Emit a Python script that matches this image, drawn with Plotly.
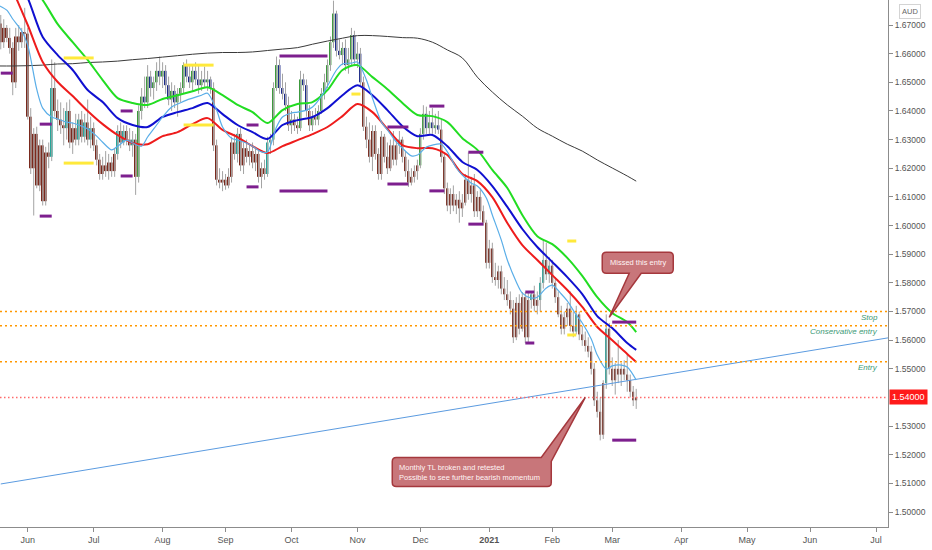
import numpy as np
import pandas as pd
import plotly.graph_objects as go

# EUR/AUD daily candles, 19 May 2020 .. 11 Mar 2021
open_ = [
    1.6705, 1.6640, 1.6690, 1.6655, 1.6620, 1.6500, 1.6660, 1.6640, 1.6675, 1.6670,
    1.6380, 1.6200, 1.6320, 1.6140, 1.6280, 1.6085, 1.6255, 1.6240, 1.6480, 1.6400,
    1.6370, 1.6350, 1.6340, 1.6400, 1.6290, 1.6340, 1.6300, 1.6370, 1.6310, 1.6360,
    1.6300, 1.6340, 1.6280, 1.6230, 1.6180, 1.6210, 1.6190, 1.6220, 1.6190, 1.6250,
    1.6330, 1.6290, 1.6330, 1.6300, 1.6280, 1.6300, 1.6170, 1.6400, 1.6450, 1.6430,
    1.6520, 1.6480, 1.6500, 1.6540, 1.6520, 1.6540, 1.6490, 1.6440, 1.6470, 1.6430,
    1.6460, 1.6480, 1.6560, 1.6520, 1.6500, 1.6540, 1.6510, 1.6490, 1.6510, 1.6500,
    1.6510, 1.6480, 1.6280, 1.6160, 1.6150, 1.6160, 1.6140, 1.6170, 1.6290, 1.6250,
    1.6320, 1.6210, 1.6270, 1.6240, 1.6260, 1.6220, 1.6250, 1.6170, 1.6200, 1.6180,
    1.6290, 1.6300, 1.6480, 1.6560, 1.6480, 1.6460, 1.6420, 1.6350, 1.6370, 1.6350,
    1.6340, 1.6510, 1.6490, 1.6400, 1.6350, 1.6380, 1.6370, 1.6400, 1.6460, 1.6500,
    1.6560, 1.6640, 1.6740, 1.6610, 1.6595, 1.6620, 1.6560, 1.6580, 1.6665, 1.6580,
    1.6600, 1.6500, 1.6345, 1.6300, 1.6240, 1.6330, 1.6250, 1.6180, 1.6310, 1.6240,
    1.6200, 1.6280, 1.6230, 1.6280, 1.6300, 1.6240, 1.6190, 1.6150, 1.6170, 1.6190,
    1.6210, 1.6320, 1.6390, 1.6340, 1.6360, 1.6340, 1.6350, 1.6335, 1.6240, 1.6130,
    1.6070, 1.6110, 1.6070, 1.6090, 1.6060, 1.6080, 1.6160, 1.6110, 1.6140, 1.6050,
    1.6100, 1.6050, 1.6010, 1.5870, 1.5920, 1.5820, 1.5810, 1.5840, 1.5780, 1.5760,
    1.5740, 1.5710, 1.5610, 1.5730, 1.5640, 1.5750, 1.5610, 1.5740, 1.5760, 1.5720,
    1.5740, 1.5800, 1.5880, 1.5830, 1.5860, 1.5800, 1.5750, 1.5690, 1.5640, 1.5680,
    1.5710, 1.5650, 1.5630, 1.5690, 1.5620, 1.5600, 1.5580, 1.5560, 1.5500, 1.5390,
    1.5350, 1.5270, 1.5450, 1.5640, 1.5500, 1.5460, 1.5500, 1.5480, 1.5500, 1.5480,
    1.5460, 1.5420, 1.5390,
]
high = [
    1.6735, 1.6720, 1.6700, 1.6690, 1.6640, 1.6690, 1.6700, 1.6690, 1.6760, 1.6690,
    1.6410, 1.6340, 1.6345, 1.6300, 1.6300, 1.6275, 1.6290, 1.6580, 1.6570, 1.6440,
    1.6430, 1.6410, 1.6430, 1.6440, 1.6360, 1.6390, 1.6390, 1.6400, 1.6390, 1.6440,
    1.6380, 1.6360, 1.6300, 1.6250, 1.6240, 1.6260, 1.6250, 1.6240, 1.6270, 1.6350,
    1.6360, 1.6350, 1.6350, 1.6340, 1.6330, 1.6320, 1.6420, 1.6480, 1.6520, 1.6560,
    1.6540, 1.6520, 1.6570, 1.6590, 1.6570, 1.6560, 1.6520, 1.6500, 1.6490, 1.6480,
    1.6500, 1.6570, 1.6580, 1.6560, 1.6560, 1.6570, 1.6560, 1.6540, 1.6555, 1.6540,
    1.6520, 1.6500, 1.6300, 1.6200, 1.6190, 1.6180, 1.6200, 1.6310, 1.6320, 1.6340,
    1.6340, 1.6290, 1.6300, 1.6280, 1.6290, 1.6270, 1.6260, 1.6220, 1.6230, 1.6310,
    1.6320, 1.6500, 1.6590, 1.6580, 1.6530, 1.6500, 1.6450, 1.6400, 1.6390, 1.6380,
    1.6540, 1.6530, 1.6510, 1.6420, 1.6400, 1.6410, 1.6420, 1.6480, 1.6530, 1.6580,
    1.6660, 1.6785, 1.6750, 1.6650, 1.6640, 1.6650, 1.6620, 1.6690, 1.6680, 1.6640,
    1.6620, 1.6520, 1.6380, 1.6360, 1.6350, 1.6350, 1.6270, 1.6330, 1.6320, 1.6290,
    1.6300, 1.6330, 1.6300, 1.6330, 1.6310, 1.6260, 1.6230, 1.6200, 1.6210, 1.6230,
    1.6340, 1.6420, 1.6415, 1.6400, 1.6410, 1.6390, 1.6400, 1.6370, 1.6250, 1.6150,
    1.6130, 1.6140, 1.6110, 1.6120, 1.6110, 1.6180, 1.6255, 1.6170, 1.6180, 1.6120,
    1.6130, 1.6070, 1.6020, 1.5950, 1.5940, 1.5870, 1.5860, 1.5860, 1.5820, 1.5810,
    1.5770, 1.5740, 1.5750, 1.5760, 1.5768, 1.5768, 1.5770, 1.5768, 1.5790, 1.5770,
    1.5820, 1.5950, 1.5940, 1.5890, 1.5880, 1.5820, 1.5770, 1.5720, 1.5700, 1.5730,
    1.5770, 1.5700, 1.5720, 1.5700, 1.5650, 1.5630, 1.5610, 1.5580, 1.5520, 1.5420,
    1.5400, 1.5460, 1.5690, 1.5660, 1.5540, 1.5520, 1.5600, 1.5520, 1.5530, 1.5550,
    1.5480, 1.5440, 1.5430,
]
low = [
    1.6615, 1.6620, 1.6640, 1.6600, 1.6455, 1.6480, 1.6610, 1.6620, 1.6620, 1.6370,
    1.6180, 1.6035, 1.6130, 1.6120, 1.6070, 1.6070, 1.6200, 1.6225, 1.6380, 1.6330,
    1.6320, 1.6280, 1.6300, 1.6270, 1.6250, 1.6280, 1.6280, 1.6290, 1.6290, 1.6280,
    1.6270, 1.6260, 1.6210, 1.6160, 1.6160, 1.6170, 1.6160, 1.6170, 1.6170, 1.6230,
    1.6270, 1.6280, 1.6280, 1.6260, 1.6240, 1.6107, 1.6150, 1.6370, 1.6410, 1.6410,
    1.6450, 1.6440, 1.6470, 1.6490, 1.6480, 1.6460, 1.6420, 1.6400, 1.6410, 1.6380,
    1.6430, 1.6460, 1.6500, 1.6480, 1.6470, 1.6490, 1.6460, 1.6470, 1.6480, 1.6470,
    1.6460, 1.6260, 1.6140, 1.6130, 1.6120, 1.6125, 1.6130, 1.6150, 1.6230, 1.6220,
    1.6190, 1.6180, 1.6220, 1.6210, 1.6200, 1.6190, 1.6150, 1.6130, 1.6160, 1.6170,
    1.6250, 1.6280, 1.6470, 1.6460, 1.6440, 1.6400, 1.6330, 1.6320, 1.6330, 1.6320,
    1.6330, 1.6470, 1.6380, 1.6330, 1.6330, 1.6350, 1.6350, 1.6390, 1.6440, 1.6480,
    1.6540, 1.6620, 1.6590, 1.6580, 1.6560, 1.6540, 1.6530, 1.6560, 1.6560, 1.6550,
    1.6490, 1.6330, 1.6270, 1.6220, 1.6190, 1.6230, 1.6160, 1.6160, 1.6220, 1.6180,
    1.6190, 1.6210, 1.6210, 1.6250, 1.6220, 1.6170, 1.6135, 1.6140, 1.6150, 1.6160,
    1.6200, 1.6300, 1.6320, 1.6320, 1.6320, 1.6320, 1.6320, 1.6220, 1.6110, 1.6050,
    1.6040, 1.6050, 1.6040, 1.6010, 1.6030, 1.6070, 1.6090, 1.6080, 1.6030, 1.6030,
    1.6020, 1.6000, 1.5850, 1.5850, 1.5800, 1.5790, 1.5780, 1.5760, 1.5740, 1.5720,
    1.5690, 1.5590, 1.5600, 1.5620, 1.5630, 1.5590, 1.5590, 1.5710, 1.5700, 1.5690,
    1.5700, 1.5780, 1.5810, 1.5800, 1.5780, 1.5730, 1.5680, 1.5620, 1.5620, 1.5650,
    1.5630, 1.5610, 1.5620, 1.5600, 1.5580, 1.5560, 1.5540, 1.5480, 1.5370, 1.5330,
    1.5250, 1.5255, 1.5430, 1.5480, 1.5440, 1.5410, 1.5450, 1.5440, 1.5460, 1.5420,
    1.5400, 1.5370, 1.5360,
]
close = [
    1.6640, 1.6690, 1.6655, 1.6620, 1.6500, 1.6660, 1.6640, 1.6675, 1.6670, 1.6380,
    1.6200, 1.6320, 1.6140, 1.6280, 1.6085, 1.6255, 1.6240, 1.6480, 1.6400, 1.6370,
    1.6350, 1.6340, 1.6400, 1.6290, 1.6340, 1.6300, 1.6370, 1.6310, 1.6360, 1.6300,
    1.6340, 1.6280, 1.6230, 1.6180, 1.6210, 1.6190, 1.6220, 1.6190, 1.6250, 1.6330,
    1.6290, 1.6330, 1.6300, 1.6280, 1.6300, 1.6170, 1.6400, 1.6450, 1.6430, 1.6520,
    1.6480, 1.6500, 1.6540, 1.6520, 1.6540, 1.6490, 1.6440, 1.6470, 1.6430, 1.6460,
    1.6480, 1.6560, 1.6520, 1.6500, 1.6540, 1.6510, 1.6490, 1.6510, 1.6500, 1.6510,
    1.6480, 1.6280, 1.6160, 1.6150, 1.6160, 1.6140, 1.6170, 1.6290, 1.6250, 1.6320,
    1.6210, 1.6270, 1.6240, 1.6260, 1.6220, 1.6250, 1.6170, 1.6200, 1.6180, 1.6290,
    1.6300, 1.6480, 1.6560, 1.6480, 1.6460, 1.6420, 1.6350, 1.6370, 1.6350, 1.6340,
    1.6510, 1.6490, 1.6400, 1.6350, 1.6380, 1.6370, 1.6400, 1.6460, 1.6500, 1.6560,
    1.6640, 1.6740, 1.6610, 1.6595, 1.6620, 1.6560, 1.6580, 1.6665, 1.6580, 1.6600,
    1.6500, 1.6345, 1.6300, 1.6240, 1.6330, 1.6250, 1.6180, 1.6310, 1.6240, 1.6200,
    1.6280, 1.6230, 1.6280, 1.6300, 1.6240, 1.6190, 1.6150, 1.6170, 1.6190, 1.6210,
    1.6320, 1.6390, 1.6340, 1.6360, 1.6340, 1.6350, 1.6335, 1.6240, 1.6130, 1.6070,
    1.6110, 1.6070, 1.6090, 1.6060, 1.6080, 1.6160, 1.6110, 1.6140, 1.6050, 1.6100,
    1.6050, 1.6010, 1.5870, 1.5920, 1.5820, 1.5810, 1.5840, 1.5780, 1.5760, 1.5740,
    1.5710, 1.5610, 1.5730, 1.5640, 1.5750, 1.5610, 1.5740, 1.5760, 1.5720, 1.5740,
    1.5800, 1.5880, 1.5830, 1.5860, 1.5800, 1.5750, 1.5690, 1.5640, 1.5680, 1.5710,
    1.5650, 1.5630, 1.5690, 1.5620, 1.5600, 1.5580, 1.5560, 1.5500, 1.5390, 1.5350,
    1.5270, 1.5450, 1.5640, 1.5500, 1.5460, 1.5500, 1.5480, 1.5500, 1.5480, 1.5460,
    1.5420, 1.5390, 1.5400,
]

# moving averages read on Mondays, plus the last bar
ema_high = [  # green
    1.6996, 1.6927, 1.6850, 1.6787, 1.6703, 1.6640, 1.6578, 1.6508, 1.6445, 1.6428,
    1.6421, 1.6442, 1.6455, 1.6469, 1.6483, 1.6455, 1.6421, 1.6396, 1.6358, 1.6403,
    1.6424, 1.6431, 1.6473, 1.6543, 1.6560, 1.6518, 1.6476, 1.6428, 1.6386, 1.6382,
    1.6361, 1.6305, 1.6264, 1.6194, 1.6131, 1.6037, 1.5963, 1.5935, 1.5887, 1.5824,
    1.5750, 1.5695, 1.5663, 1.5628,
]
ema_mid = [  # blue
    1.6979, 1.6892, 1.6794, 1.6658, 1.6595, 1.6543, 1.6473, 1.6431, 1.6375, 1.6351,
    1.6344, 1.6379, 1.6396, 1.6410, 1.6428, 1.6389, 1.6351, 1.6326, 1.6302, 1.6351,
    1.6368, 1.6379, 1.6410, 1.6455, 1.6490, 1.6455, 1.6403, 1.6347, 1.6312, 1.6316,
    1.6277, 1.6222, 1.6194, 1.6138, 1.6065, 1.5988, 1.5925, 1.5873, 1.5820, 1.5761,
    1.5684, 1.5642, 1.5590, 1.5566,
]
ema_low = [  # red
    1.6944, 1.6822, 1.6700, 1.6571, 1.6501, 1.6452, 1.6400, 1.6354, 1.6316, 1.6288,
    1.6284, 1.6312, 1.6326, 1.6354, 1.6375, 1.6334, 1.6309, 1.6277, 1.6253, 1.6277,
    1.6298, 1.6319, 1.6344, 1.6382, 1.6424, 1.6396, 1.6337, 1.6281, 1.6270, 1.6270,
    1.6246, 1.6180, 1.6155, 1.6099, 1.6009, 1.5932, 1.5880, 1.5827, 1.5775, 1.5716,
    1.5646, 1.5600, 1.5552, 1.5524,
]
sma_200 = [  # black
    1.6557, 1.6557, 1.6558, 1.6560, 1.6564, 1.6565, 1.6569, 1.6571, 1.6574, 1.6579,
    1.6583, 1.6588, 1.6593, 1.6598, 1.6602, 1.6604, 1.6604, 1.6606, 1.6611, 1.6616,
    1.6621, 1.6633, 1.6644, 1.6654, 1.6663, 1.6663, 1.6660, 1.6656, 1.6654, 1.6640,
    1.6613, 1.6585, 1.6518, 1.6466, 1.6421, 1.6382, 1.6340, 1.6312, 1.6284, 1.6260,
    1.6229, 1.6201, 1.6173, 1.6155,
]
# fast EMA (light blue) read on Mondays and Thursdays
ema_fast = [
    1.6770, 1.6752, 1.6721, 1.6679, 1.6630, 1.6476, 1.6410, 1.6379, 1.6372, 1.6361,
    1.6358, 1.6347, 1.6337, 1.6312, 1.6291, 1.6264, 1.6277, 1.6298, 1.6288, 1.6277,
    1.6309, 1.6351, 1.6379, 1.6414, 1.6424, 1.6438, 1.6445, 1.6455, 1.6462, 1.6403,
    1.6344, 1.6305, 1.6298, 1.6288, 1.6277, 1.6257, 1.6257, 1.6344, 1.6379, 1.6393,
    1.6396, 1.6403, 1.6414, 1.6452, 1.6487, 1.6543, 1.6564, 1.6567, 1.6571, 1.6508,
    1.6445, 1.6361, 1.6334, 1.6291, 1.6270, 1.6243, 1.6246, 1.6274, 1.6281, 1.6284,
    1.6257, 1.6201, 1.6176, 1.6148, 1.6138, 1.6096, 1.6037, 1.5949, 1.5880, 1.5803,
    1.5764, 1.5747, 1.5750, 1.5782, 1.5792, 1.5761, 1.5737, 1.5688, 1.5660, 1.5604,
    1.5548, 1.5499, 1.5510, 1.5513, 1.5506, 1.5461,
]

# weekly high / low markers
purple_start = ["2020-05-19", "2020-06-05", "2020-06-05", "2020-07-14", "2020-07-14",
                "2020-09-10", "2020-09-10", "2020-09-25", "2020-09-25", "2020-11-16",
                "2020-11-16", "2020-12-04", "2020-12-04", "2020-12-23", "2020-12-23",
                "2021-01-19", "2021-01-19", "2021-03-01", "2021-03-01"]
purple_end = ["2020-05-25", "2020-06-11", "2020-06-11", "2020-07-20", "2020-07-20",
              "2020-09-16", "2020-09-16", "2020-10-19", "2020-10-19", "2020-11-25",
              "2020-11-25", "2020-12-11", "2020-12-11", "2020-12-30", "2020-12-30",
              "2021-01-22", "2021-01-22", "2021-03-11", "2021-03-11"]
purple_price = [1.6532, 1.6354, 1.6033, 1.6400, 1.6173, 1.6351, 1.6135, 1.6592, 1.6121, 1.6344,
                1.6145, 1.6417, 1.6121, 1.6256, 1.6005, 1.5768, 1.5590, 1.5663, 1.5251]
yellow_start = ["2020-06-17", "2020-06-17", "2020-08-12", "2020-08-12", "2020-10-29",
                "2021-02-08", "2021-02-08"]
yellow_end = ["2020-07-01", "2020-07-01", "2020-08-26", "2020-08-26", "2020-11-03",
              "2021-02-11", "2021-02-11"]
yellow_price = [1.6585, 1.6218, 1.6560, 1.6351, 1.6459, 1.5946, 1.5618]

# trade levels and monthly trendline
level_price = [1.5700, 1.5650, 1.5525]
level_name = ["Stop", "Conservative entry", "Entry"]
tl_dates = ["2020-05-19", "2021-07-07"]
tl_price = [1.5098, 1.5608]

note_text = ["Missed this entry",
             "Monthly TL broken and retested<br>Possible to see further bearish momentum"]
note_date = ["2021-02-26", "2021-02-16"]
note_price = [1.5680, 1.5400]

month_ticks = ["2020-06-01", "2020-07-01", "2020-08-03", "2020-09-01", "2020-10-01",
               "2020-11-02", "2020-12-01", "2021-01-01", "2021-02-01", "2021-03-01",
               "2021-04-01", "2021-05-03", "2021-06-01", "2021-07-01"]
month_labels = ["Jun", "Jul", "Aug", "Sep", "Oct", "Nov", "Dec", "<b>2021</b>",
                "Feb", "Mar", "Apr", "May", "Jun", "Jul"]
price_ticks = [1.50, 1.51, 1.52, 1.53, 1.54, 1.55, 1.56, 1.57, 1.58,
               1.59, 1.60, 1.61, 1.62, 1.63, 1.64, 1.65, 1.66, 1.67]

FONT = "Liberation Sans, Arial, sans-serif"
MAROON, GREEN, NAVY, TEAL = "#7a2a1e", "#3c9a3c", "#1c2a8a", "#26a69a"
NOTE_FILL, NOTE_LINE = "#c8767a", "#a5383d"

half = pd.Timedelta(hours=12)  # centre each daily bar on mid-day
days = pd.bdate_range("2020-05-19", "2021-03-11") + half
o, h, l, c = (np.array(a) for a in (open_, high, low, close))
assert len(days) == len(o) == len(h) == len(l) == len(c)

mondays = pd.date_range("2020-05-18", "2021-03-08", freq="W-MON")
ma_x = pd.DatetimeIndex(list(mondays) + [pd.Timestamp("2021-03-11")]) + half
fast_x = pd.DatetimeIndex(sorted(list(mondays) +
                                 list(pd.date_range("2020-05-21", "2021-03-11", freq="W-THU")))) + half

# bar colouring like the script on the chart: trend vs. blue line, teal on fast-EMA reclaim
t = days.values.astype("int64")
mid_at = np.interp(t, ma_x.values.astype("int64"), ema_mid)
fast_at = np.interp(t, fast_x.values.astype("int64"), ema_fast)
colors = []
for oo, cc, m, f in zip(o, c, mid_at, fast_at):
    if cc > m:
        colors.append(GREEN if cc >= oo else NAVY)
    elif cc > oo and cc > f:
        colors.append(TEAL)
    else:
        colors.append(MAROON)

wick_x, wick_y = [], []
for d, hh, ll in zip(days, h, l):
    wick_x += [d, d, None]
    wick_y += [ll, hh, None]

fig = go.Figure()
fig.add_trace(go.Scatter(x=wick_x, y=wick_y, mode="lines",
                         line=dict(color="#a3a3a3", width=1)))
fig.add_trace(go.Bar(x=days, y=np.abs(c - o), base=np.minimum(o, c),
                     width=0.62 * 86400000, marker=dict(color=colors, line=dict(width=0))))

fig.add_trace(go.Scatter(x=ma_x, y=sma_200, mode="lines",
                         line=dict(color="#3a3a3a", width=1, shape="spline")))
fig.add_trace(go.Scatter(x=pd.DatetimeIndex(tl_dates) + half, y=tl_price, mode="lines",
                         line=dict(color="#5b9be0", width=1)))
for vals, col, w in [(ema_high, "#22dd22", 2), (ema_mid, "#1010d0", 2), (ema_low, "#ee1c1c", 2)]:
    fig.add_trace(go.Scatter(x=ma_x, y=vals, mode="lines",
                             line=dict(color=col, width=w, shape="spline", smoothing=0.8)))
fig.add_trace(go.Scatter(x=fast_x, y=ema_fast, mode="lines",
                         line=dict(color="#5aaee8", width=1.2, shape="spline", smoothing=0.8)))


def segments(starts, ends, prices):
    xs, ys = [], []
    for s, e, p in zip(starts, ends, prices):
        xs += [pd.Timestamp(s) + half, pd.Timestamp(e) + half, None]
        ys += [p, p, None]
    return xs, ys


for st, en, pr, col in [(purple_start, purple_end, purple_price, "#7d1f8e"),
                        (yellow_start, yellow_end, yellow_price, "#ffe93b")]:
    sx, sy = segments(st, en, pr)
    fig.add_trace(go.Scatter(x=sx, y=sy, mode="lines", line=dict(color=col, width=3)))

shapes = []
for p in level_price:
    shapes.append(dict(type="line", xref="paper", x0=0, x1=1, yref="y", y0=p, y1=p,
                       line=dict(color="#ff9800", width=1.5, dash="2px,3px")))
shapes.append(dict(type="line", xref="paper", x0=0, x1=1, yref="y", y0=close[-1], y1=close[-1],
                   line=dict(color="#ff6b6b", width=1.5, dash="1.5px,2.5px")))

# callout bubbles, drawn in pixels around the point they point at
bubble_paths = [
    "M -3,44 L 20,44 L 0,0 L 32,44 L 60,44 Q 64,44 64,48 L 64,61 Q 64,65 60,65 "
    "L -3,65 Q -7,65 -7,61 L -7,48 Q -7,44 -3,44 Z",
    "M -189,-60 L -44,-60 L 0,0 L -34,-64 L -34,-85 Q -34,-89 -38,-89 L -189,-89 "
    "Q -193,-89 -193,-85 L -193,-64 Q -193,-60 -189,-60 Z",
]
for path, d, p in zip(bubble_paths, note_date, note_price):
    shapes.append(dict(type="path", xref="x", yref="y", xsizemode="pixel", ysizemode="pixel",
                       xanchor=str(pd.Timestamp(d) + half), yanchor=p, path=path,
                       fillcolor=NOTE_FILL, line=dict(color=NOTE_LINE, width=1.5)))

annotations = []
for p, name in zip(level_price, level_name):
    annotations.append(dict(x=0.991, xref="paper", y=p, yref="y", xanchor="right", yanchor="top",
                            text="<i>" + name + "</i>", showarrow=False, yshift=1,
                            font=dict(family=FONT, size=8, color="#3d9a76")))
annotations.append(dict(x=1, xref="paper", y=close[-1], yref="y", xanchor="left", yanchor="middle",
                        text=f"{close[-1]:.5f}", showarrow=False, xshift=1, bgcolor="#ff1a1a",
                        borderpad=2, font=dict(family=FONT, size=9, color="white")))
annotations.append(dict(x=1, xref="paper", y=1, yref="paper", xanchor="left", yanchor="top",
                        text="AUD", showarrow=False, xshift=11, yshift=-4, bordercolor="#d4d4d4",
                        borderwidth=1, borderpad=2, font=dict(family=FONT, size=7.5, color="#666")))
text_offsets = [(29, 55, "center"), (-188, -75, "left")]
for (dx, dy, anc), txt, d, p in zip(text_offsets, note_text, note_date, note_price):
    annotations.append(dict(x=str(pd.Timestamp(d) + half), y=p, xref="x", yref="y", text=txt,
                            showarrow=False, xshift=dx, yshift=dy, xanchor=anc, yanchor="middle",
                            align="left", font=dict(family=FONT, size=7.5, color="#fff4f4")))

# the red last-price tag takes the place of its tick label
shown_ticks = [v for v in price_ticks if abs(v - close[-1]) > 1e-9]

fig.update_layout(
    width=932, height=550,
    margin=dict(l=0, r=44, t=0, b=23),
    plot_bgcolor="white", paper_bgcolor="white",
    showlegend=False, hovermode=False,
    shapes=shapes, annotations=annotations,
    font=dict(family=FONT, size=9, color="#555"),
    xaxis=dict(
        range=["2020-05-19 06:00", "2021-07-07 12:00"],
        rangebreaks=[dict(bounds=["sat", "mon"])],
        tickvals=[pd.Timestamp(d) + half for d in month_ticks], ticktext=month_labels,
        showgrid=False, zeroline=False, showline=True, linecolor="#8c8c8c",
        ticks="outside", ticklen=4, tickcolor="#8c8c8c",
        tickfont=dict(family=FONT, size=9, color="#555"),
    ),
    yaxis=dict(
        side="right", range=[1.49478, 1.67873],
        tickvals=shown_ticks, ticktext=[f"{v:.5f}" for v in shown_ticks],
        showgrid=False, zeroline=False, showline=True, linecolor="#8c8c8c",
        ticks="outside", ticklen=4, tickcolor="#8c8c8c",
        tickfont=dict(family=FONT, size=8.5, color="#555"),
    ),
)

# the page body has a default 8px margin; drop it so the chart fills the window
fig.write_html("out.html", config={"displayModeBar": False},
               post_script="document.body.style.margin='0';")
